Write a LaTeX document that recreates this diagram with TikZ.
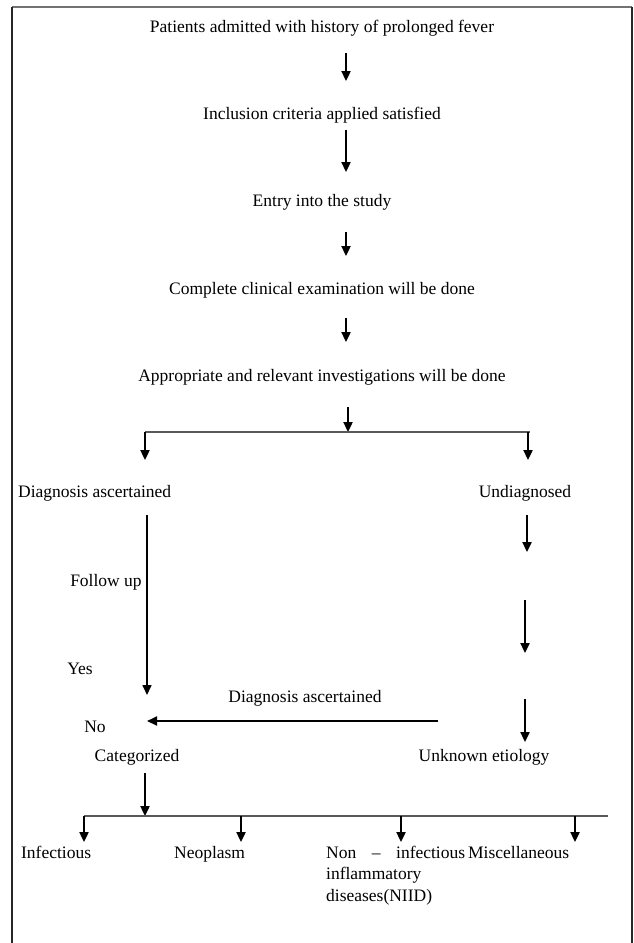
\documentclass[tikz,border=0pt]{standalone}
\usepackage{fontspec}
\setmainfont{Liberation Serif}
\usetikzlibrary{arrows.meta}
\usetikzlibrary{positioning}

\begin{document}
\begin{tikzpicture}[x=1pt, y=-1pt, ->, >={Triangle[width=9pt,length=10pt]}, line width=2.3pt, font=\fontsize{17.5}{21.5}\selectfont]
    \tikzstyle{txt}=[inner sep=0pt, anchor=center]
    \tikzstyle{ltxt}=[inner sep=0pt, anchor=west]
    \tikzstyle{btxt}=[inner sep=0pt, anchor=base west]
    \tikzstyle{split}=[-, draw=black!65, line width=1.4pt]
    \tikzstyle{frame}=[-, line width=1.8pt]

    \useasboundingbox (0,0) rectangle (633,943);
    \draw[frame, draw=black!55] (12,7) -- (632,7);
    \draw[frame, draw=black!85] (12,7) -- (12,943);
    \draw[frame, draw=black!85] (632,7) -- (632,943);

    %% Main sequence
    \node[txt] (adm) at (322,28) {Patients admitted with history of prolonged fever};
    \node[txt] (inc) at (322,115) {Inclusion criteria applied satisfied};
    \node[txt] (entry) at (322,202) {Entry into the study};
    \node[txt] (exam) at (322,290) {Complete clinical examination will be done};
    \node[txt] (inv) at (322,377) {Appropriate and relevant investigations will be done};

    \coordinate (a1) at (346,53);  \coordinate (b1) at (346,81);
    \coordinate (a2) at (346,130); \coordinate (b2) at (346,172);
    \coordinate (a3) at (346,232); \coordinate (b3) at (346,256);
    \coordinate (a4) at (346,318); \coordinate (b4) at (346,342);
    \coordinate (a5) at (348,407); \coordinate (sp) at (348,432);

    \draw (a1) -- (b1);
    \draw (a2) -- (b2);
    \draw (a3) -- (b3);
    \draw (a4) -- (b4);
    \draw (a5) -- (sp);

    %% Branch
    \coordinate (spL) at (145,432);
    \coordinate (spR) at (530,432);
    \draw[split] (spL) -- (spR);
    \coordinate (bL) at (145,460);
    \coordinate (bR) at (528,460);
    \draw (spL) -- (bL);
    \draw ([xshift=-2pt]spR) -- (bR);

    \node[ltxt] (dx) at (17,493) {Diagnosis ascertained};
    \node[txt] (und) at (525,493) {Undiagnosed};

    %% Left side
    \coordinate (l1) at (147,515);
    \coordinate (l2) at (147,695);
    \draw[line width=1.6pt] (l1) -- (l2);
    \node[txt] (fol) at (106,582) {Follow up};
    \node[txt] (yes) at (80,669) {Yes};
    \node[txt] (no) at (95,727) {No};

    %% Right side
    \coordinate (r1) at (527,515); \coordinate (s1) at (527,552);
    \coordinate (r2) at (525,600); \coordinate (s2) at (525,653);
    \coordinate (r3) at (525,699); \coordinate (s3) at (525,742);
    \draw (r1) -- (s1);
    \draw (r2) -- (s2);
    \draw (r3) -- (s3);

    \node[txt] (dx2) at (305,698) {Diagnosis ascertained};
    \coordinate (h1) at (438,721);
    \coordinate (h2) at (147,721);
    \draw[line width=2pt] (h1) -- (h2);

    \node[txt] (cat) at (137,757) {Categorized};
    \node[txt] (unk) at (484,757) {Unknown etiology};

    %% Categories
    \coordinate (c1) at (145,773);
    \coordinate (cs) at (145,816);
    \draw (c1) -- (cs);
    \coordinate (ca) at (84,816);
    \coordinate (cb) at (608,816);
    \draw[split] (ca) -- (cb);
    \coordinate (k1) at (84,816);  \coordinate (e1) at (84,842);
    \coordinate (k2) at (241,816); \coordinate (e2) at (241,842);
    \coordinate (k3) at (401,816); \coordinate (e3) at (401,842);
    \coordinate (k4) at (575,816); \coordinate (e4) at (575,842);
    \draw (k1) -- (e1);
    \draw (k2) -- (e2);
    \draw (k3) -- (e3);
    \draw (k4) -- (e4);

    \node[btxt] (inf) at (20,858) {Infectious};
    \node[btxt] (neo) at (173,858) {Neoplasm};
    \node[inner sep=0pt, anchor=north west, text width=139pt, align=left] (niid) at (325,845) {Non\hfill--\hfill infectious\\inflammatory\\diseases(NIID)};
    \node[btxt] (misc) at (467,858) {Miscellaneous};
\end{tikzpicture}
\end{document}
